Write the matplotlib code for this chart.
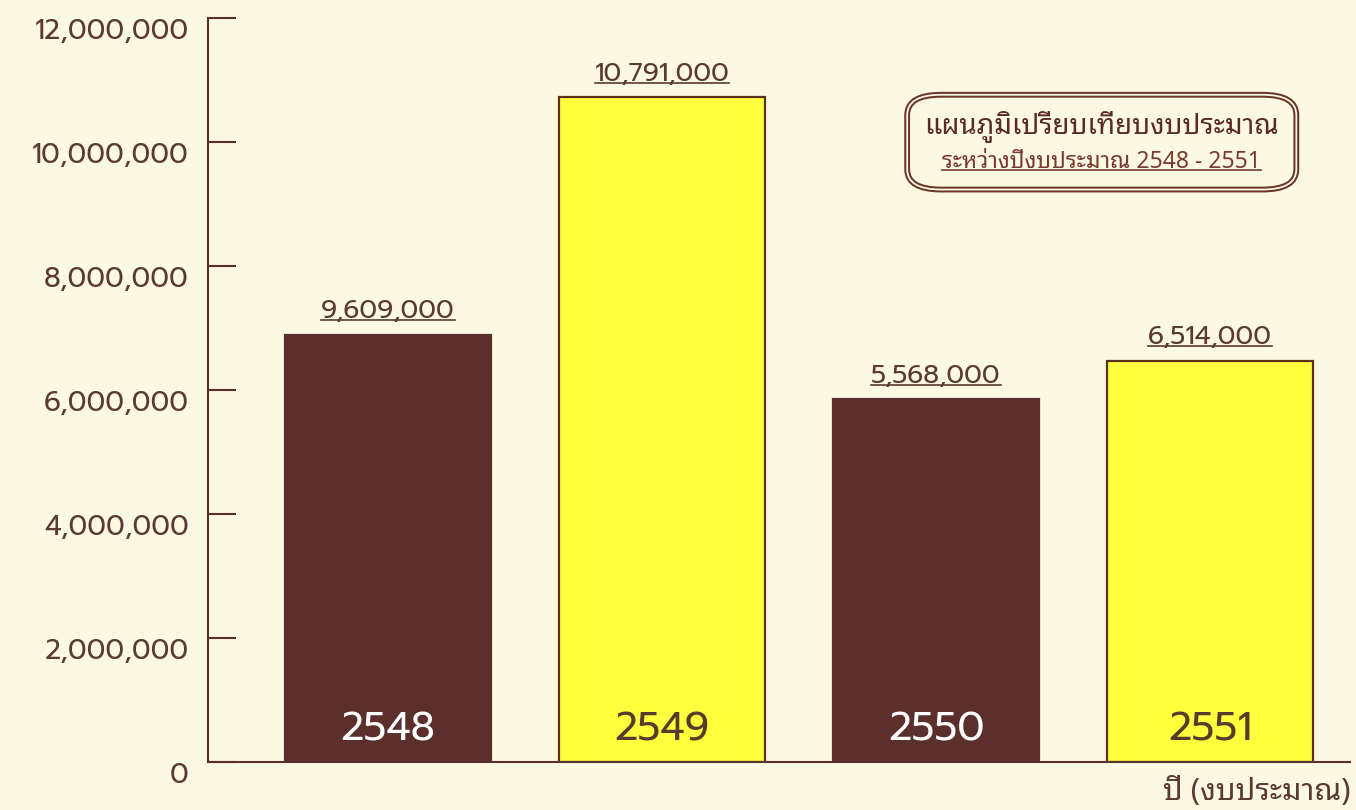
import matplotlib
matplotlib.use("Agg")
import matplotlib.pyplot as plt
from matplotlib.lines import Line2D
from matplotlib.patches import FancyBboxPatch
from matplotlib.ticker import FuncFormatter

plt.rcParams["font.family"] = ["Noto Sans Thai Looped", "DejaVu Sans"]
NUM_FONT = ["Prompt", "Noto Sans Thai Looped", "DejaVu Sans"]

# values (bar heights as drawn) and the printed labels
years = ["2548", "2549", "2550", "2551"]
bar_heights = [6.89e6, 10.72e6, 5.85e6, 6.47e6]
value_labels = ["9,609,000", "10,791,000", "5,568,000", "6,514,000"]
y_ticks = [0, 2e6, 4e6, 6e6, 8e6, 10e6, 12e6]

title_main = "แผนภูมิเปรียบเทียบงบประมาณ"
title_sub = "ระหว่างปีงบประมาณ 2548 - 2551"
x_title = "ปี (งบประมาณ)"

BG = "#fcf9e2"
BROWN = "#5b2f2c"
YELLOW = "#ffff3e"
TEXT = "#5a3a31"

bar_colors = [BROWN, YELLOW, BROWN, YELLOW]
year_colors = ["white", "#5a3a2a", "white", "#5a3a2a"]

fig = plt.figure(figsize=(13.56, 8.1), dpi=100, facecolor=BG)
ax = fig.add_axes([0.1534, 0.0593, 0.842, 0.9185], facecolor=BG)

x = list(range(len(years)))
ax.bar(x, bar_heights, width=0.755, color=bar_colors,
       edgecolor=[BROWN, "#5a3018", BROWN, "#5a3018"], linewidth=1.6, zorder=2)

ax.set_xlim(-0.657, 3.51)
ax.set_ylim(0, 12e6)
ax.set_yticks(y_ticks)
ax.yaxis.set_major_formatter(FuncFormatter(lambda v, p: f"{v:,.0f}"))
ax.set_xticks([])
ax.tick_params(axis="y", direction="in", length=20, width=1.5, color=BROWN,
               labelsize=20, labelcolor=TEXT, pad=14)
for lab in ax.get_yticklabels():
    lab.set_family(NUM_FONT)
    lab.set_va("top")
for s in ["top", "right"]:
    ax.spines[s].set_visible(False)
for s in ["left", "bottom"]:
    ax.spines[s].set_color(BROWN)
    ax.spines[s].set_linewidth(1.5)

# year labels inside the bars
for xi, yr, c in zip(x, years, year_colors):
    ax.text(xi, 0.2e6, yr, ha="center", va="bottom", fontsize=29, color=c,
            family=NUM_FONT, zorder=3)

# value labels above bars (underlined later)
val_texts = []
for xi, h, lab in zip(x, bar_heights, value_labels):
    t = ax.text(xi, h + 0.17e6, lab, ha="center", va="bottom", fontsize=19,
                color=TEXT, family=NUM_FONT, zorder=3)
    val_texts.append(t)

# title box with double rounded border
box_kw = dict(boxstyle="round,pad=0,rounding_size=0.025",
              transform=fig.transFigure, zorder=4)
outer = FancyBboxPatch((0.669, 0.766), 0.287, 0.117, facecolor=BG,
                       edgecolor="#6b3528", linewidth=4.2, **box_kw)
inner = FancyBboxPatch((0.669, 0.766), 0.287, 0.117, facecolor="none",
                       edgecolor=BG, linewidth=1.3, **box_kw)
fig.add_artist(outer)
fig.add_artist(inner)
fig.text(0.8125, 0.843, title_main, ha="center", va="center", fontsize=20,
         fontweight="bold", color="#5a2a28", zorder=5)
sub = fig.text(0.8125, 0.8, title_sub, ha="center", va="center", fontsize=16.5,
               color="#7a3a32", zorder=5)

fig.text(0.996, 0.004, x_title, ha="right", va="bottom", fontsize=22,
         color=TEXT)

# underline helper
fig.canvas.draw()
inv = fig.transFigure.inverted()
for t in val_texts + [sub]:
    bb = t.get_window_extent()
    (x0, y0), (x1, _) = inv.transform([(bb.x0, bb.y0 + 4), (bb.x1, bb.y1)])
    fig.add_artist(Line2D([x0, x1], [y0, y0], transform=fig.transFigure,
                          color=t.get_color(), linewidth=1.2, zorder=6))

fig.savefig("out.png", dpi=100, facecolor=BG)
